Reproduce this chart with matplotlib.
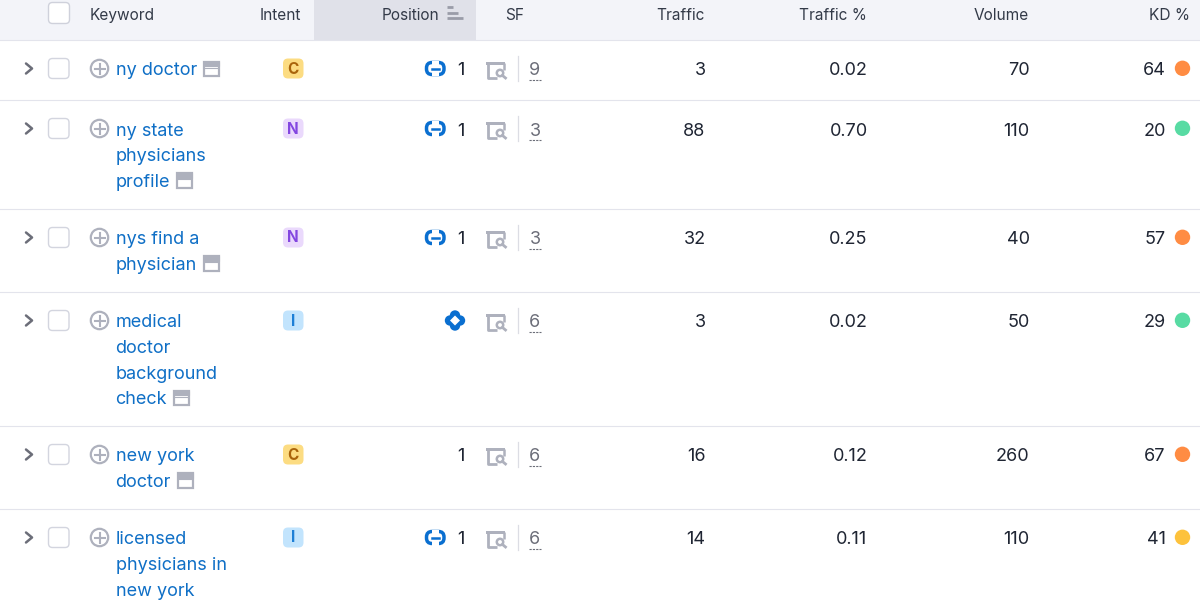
#!/usr/bin/env python3
"""Keyword table rebuilt on a pixel-sized axes."""

import matplotlib
matplotlib.use("Agg")
import matplotlib.pyplot as plt
from matplotlib.patches import Circle, FancyBboxPatch, Polygon, Rectangle

plt.rcParams["font.family"] = ["Inter", "DejaVu Sans"]

headers = ["Keyword", "Intent", "Position", "SF", "Traffic", "Traffic %", "Volume", "KD %"]
keywords = [
    ["ny doctor"],
    ["ny state", "physicians", "profile"],
    ["nys find a", "physician"],
    ["medical", "doctor", "background", "check"],
    ["new york", "doctor"],
    ["licensed", "physicians in", "new york"],
]
intents = ["C", "N", "N", "I", "C", "I"]
positions = [1, 1, 1, None, 1, 1]
position_icons = ["link", "link", "link", "diamond", None, "link"]
sf_counts = [9, 3, 3, 6, 6, 6]
traffic = [3, 88, 32, 3, 16, 14]
traffic_pct = ["0.02", "0.70", "0.25", "0.02", "0.12", "0.11"]
volume = [70, 110, 40, 50, 260, 110]
kd = [64, 20, 57, 29, 67, 41]
has_window_icon = [True, True, True, True, True, False]

INK = "#1f2533"
HEAD_INK = "#333a48"
BLUE = "#0f6fc6"
ICON_BLUE = "#0a6fd0"
GREY = "#aeb1bd"
LINE = "#e3e4ec"
INTENT_COLORS = {
    "C": ("#fcdc82", "#a9640c"),
    "N": ("#ead9fc", "#8346e0"),
    "I": ("#c2e4fd", "#1d7fd6"),
}
BODY_SIZE = 13.0
LINE_STEP = 25.8


def kd_color(value):
    if value < 30:
        return "#58dba3"
    if value < 50:
        return "#fdc23c"
    return "#ff8c43"


def row_height(n_lines):
    return max(60, round(32.5 + 25.4 * n_lines))


def rounded(ax, x, y, w, h, r, **kw):
    ax.add_patch(FancyBboxPatch((x + r, y + r), w - 2 * r, h - 2 * r,
                                boxstyle=f"round,pad={r},rounding_size={r}", **kw))


def draw_chevron(ax, y):
    ax.plot([26, 32, 26], [y - 5, y, y + 5], color="#6c6e79", lw=1.8,
            solid_capstyle="round", solid_joinstyle="round")


def draw_checkbox(ax, y):
    rounded(ax, 48.5, y - 10, 20.5, 20, 4, fc="white", ec="#d3d5df", lw=1.0)


def draw_plus(ax, y):
    ax.add_patch(Circle((99.5, y), 8.7, fc="none", ec=GREY, lw=1.6))
    ax.plot([94.5, 104.5], [y, y], color=GREY, lw=1.5)
    ax.plot([99.5, 99.5], [y - 5, y + 5], color=GREY, lw=1.5)


def draw_window(ax, x, y):
    ax.add_patch(Rectangle((x + 0.5, y - 7), 15, 14.5, fc="none", ec=GREY, lw=1.6))
    ax.add_patch(Rectangle((x + 0.5, y - 7), 15, 4.5, fc=GREY, ec=GREY, lw=0.8))
    ax.plot([x + 1.5, x + 14.5], [y - 1, y - 1], color=GREY, lw=0.8)


def draw_link(ax, y):
    rounded(ax, 426.5, y - 6, 17.5, 12, 5.5, fc="none", ec=ICON_BLUE, lw=2.5)
    ax.add_patch(Rectangle((432, y - 8), 6.5, 4.2, fc="white", ec="none", zorder=3))
    ax.add_patch(Rectangle((432, y + 3.8), 6.5, 4.2, fc="white", ec="none", zorder=3))
    ax.plot([431.5, 439], [y, y], color=ICON_BLUE, lw=1.8, zorder=4)


def draw_diamond(ax, y):
    cx = 455
    for dx, dy in [(-5, 0), (5, 0), (0, -5), (0, 5)]:
        ax.add_patch(Circle((cx + dx, y + dy), 5.2, fc=ICON_BLUE, ec="none"))
    ax.add_patch(Rectangle((cx - 4, y - 4), 8, 8, fc=ICON_BLUE, ec="none"))
    ax.add_patch(Polygon([(cx - 5, y), (cx, y - 5), (cx + 5, y), (cx, y + 5)],
                         closed=True, fc="white", ec="none", zorder=3))


def draw_serp(ax, y):
    # y is the row's mid line
    ax.plot([487.5, 487.5, 497], [y - 6, y + 8.5, y + 8.5], color=GREY, lw=2.0,
            solid_capstyle="butt")
    ax.add_patch(Rectangle((486, y - 7.5), 19, 3.5, fc=GREY, ec="none"))
    ax.plot([504, 504], [y - 6, y + 0.5], color=GREY, lw=1.8, solid_capstyle="butt")
    ax.add_patch(Circle((500, y + 4), 3.2, fc="white", ec=GREY, lw=1.8, zorder=3))
    ax.plot([502.5, 505.5], [y + 6.5, y + 9], color=GREY, lw=2, zorder=3)


fig = plt.figure(figsize=(12, 6), dpi=100, facecolor="white")
ax = fig.add_axes([0, 0, 1, 1])
ax.set_xlim(0, 1200)
ax.set_ylim(600, 0)
ax.axis("off")

# header band
ax.add_patch(Rectangle((0, 0), 1200, 40, fc="#f3f4f9", ec="none"))
ax.add_patch(Rectangle((314, 0), 161.5, 40, fc="#e0e1e9", ec="none"))
ax.plot([0, 1200], [40, 40], color=LINE, lw=0.8)
rounded(ax, 48.5, 2.5, 21, 21, 4, fc="white", ec="#cfd1db", lw=1.0)

head_style = dict(fontsize=11.1, color=HEAD_INK, va="baseline")
ax.text(90, 19.6, headers[0], ha="left", **head_style)
ax.text(301, 19.6, headers[1], ha="right", **head_style)
ax.text(439.5, 19.6, headers[2], ha="right", **head_style)
ax.text(514.5, 19.6, headers[3], ha="center", **head_style)
ax.text(705, 19.6, headers[4], ha="right", **head_style)
ax.text(867, 19.6, headers[5], ha="right", **head_style)
ax.text(1029, 19.6, headers[6], ha="right", **head_style)
ax.text(1190, 19.6, headers[7], ha="right", **head_style)
for x1, y in [(452.5, 7.3), (457.5, 12.7), (463, 18)]:
    ax.plot([447, x1], [y, y], color="#9a9ca8", lw=2, solid_capstyle="butt")

body = dict(fontsize=BODY_SIZE, color=INK, va="baseline")
top = 40
for i, lines in enumerate(keywords):
    mid = top + 29
    base = top + 35
    # second row sits a pixel lower in the source
    first_base = base + (1 if i == 1 else 0)

    draw_chevron(ax, mid - 0.5)
    draw_checkbox(ax, mid - 0.5)
    draw_plus(ax, mid - 0.5)

    for j, line in enumerate(lines):
        y = first_base if j == 0 else base + j * LINE_STEP
        t = ax.text(115.6, y, line, fontsize=BODY_SIZE, color=BLUE, va="baseline")
    if has_window_icon[i]:
        fig.canvas.draw()
        bb = t.get_window_extent()
        draw_window(ax, bb.x1 + 6.5, base + (len(lines) - 1) * LINE_STEP - 6.5)

    letter = intents[i]
    bg, fg = INTENT_COLORS[letter]
    rounded(ax, 283, mid - 10.5, 20.5, 20, 5, fc=bg, ec="none")
    ax.text(293.3, mid, letter, fontsize=11, fontweight="bold", color=fg,
            ha="center", va="center")

    if positions[i] is not None:
        ax.text(464.5, first_base, str(positions[i]), ha="right", **body)
    if position_icons[i] == "link":
        draw_link(ax, mid - 0.5)
    elif position_icons[i] == "diamond":
        draw_diamond(ax, mid - 0.5)

    draw_serp(ax, mid)
    ax.plot([517.5, 517.5], [mid - 13, mid + 12], color="#dcdde4", lw=0.9)
    ax.text(535, first_base, str(sf_counts[i]), ha="center", fontsize=BODY_SIZE,
            color="#6c6e79", va="baseline")
    ax.plot([529, 541], [mid + 10.5, mid + 10.5], color="#6c6e79", lw=0.8, ls=(0, (2, 1)))

    ax.text(705.6, first_base, str(traffic[i]), ha="right", **body)
    ax.text(867.6, first_base, traffic_pct[i], ha="right", **body)
    ax.text(1029.6, first_base, str(volume[i]), ha="right", **body)
    ax.text(1165.6, first_base, str(kd[i]), ha="right", **body)
    ax.add_patch(Circle((1182.5, mid - 0.7), 7.7, fc=kd_color(kd[i]), ec="none"))

    top += row_height(len(lines))
    if i < len(keywords) - 1:
        ax.plot([0, 1200], [top, top], color=LINE, lw=0.8)

fig.savefig("out.png", dpi=100)
plt.close(fig)
